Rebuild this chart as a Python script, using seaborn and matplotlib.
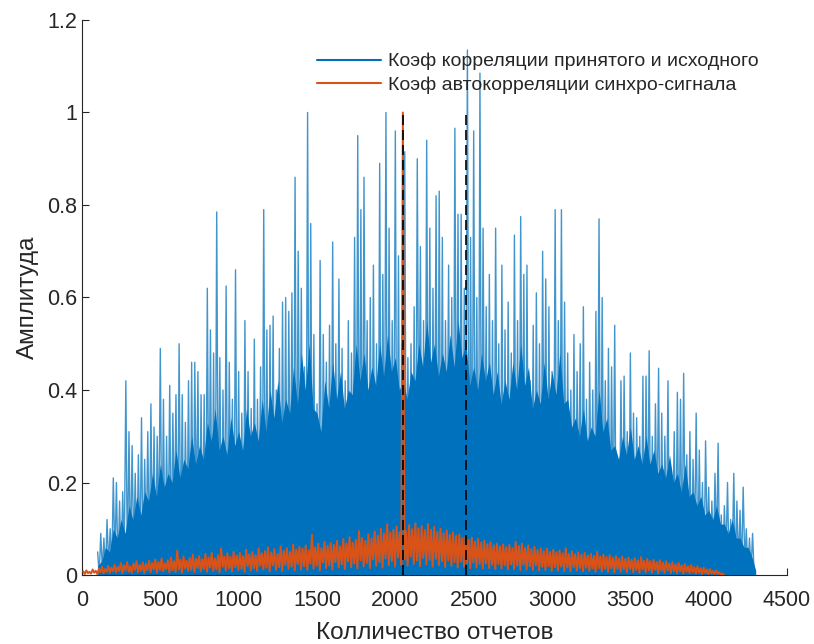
import numpy as np
import pandas as pd
import matplotlib
matplotlib.use("Agg")
import matplotlib.pyplot as plt
import seaborn as sns

# Stored samples: alternating local maxima and minima, 10 samples apart
sample_step = 10
corr_start = 100   # first sample of the received/reference correlation
acf_start = 8      # first sample of the sync-signal autocorrelation

# Correlation of received and source signal: local maxima (every 20 samples from 100)
corr_peaks = [
    0.05, 0.09, 0.08, 0.12, 0.10,
    0.21, 0.20, 0.16, 0.18, 0.42,
    0.31, 0.28, 0.22, 0.26, 0.34,
    0.25, 0.31, 0.37, 0.32, 0.30,
    0.49, 0.38, 0.30, 0.41, 0.35,
    0.39, 0.50, 0.39, 0.33, 0.42,
    0.46, 0.46, 0.44, 0.39, 0.39,
    0.62, 0.53, 0.48, 0.785, 0.47,
    0.40, 0.625, 0.46, 0.38, 0.66,
    0.44, 0.35, 0.55, 0.44, 0.36,
    0.51, 0.38, 0.45, 0.79, 0.53,
    0.54, 0.56, 0.40, 0.49, 0.59,
    0.60, 0.57, 0.61, 0.86, 0.70,
    0.62, 0.45, 1.00, 0.76, 0.52,
    0.37, 0.68, 0.52, 0.46, 0.54,
    0.72, 0.50, 0.64, 0.49, 0.42,
    0.55, 0.48, 0.73, 0.95, 0.79,
    0.86, 0.55, 0.60, 0.67, 0.50,
    0.89, 0.65, 1.00, 0.75, 0.55,
    0.96, 0.69, 0.50, 0.915, 0.47,
    0.50, 0.58, 0.90, 0.71, 0.55,
    0.94, 0.75, 0.62, 0.82, 0.83,
    0.73, 0.55, 0.67, 0.60, 0.966,
    0.78, 0.78, 0.62, 1.135, 0.73,
    0.96, 0.60, 1.085, 0.75, 0.58,
    0.65, 0.55, 0.75, 0.50, 0.67,
    0.53, 0.59, 0.48, 0.735, 0.55,
    0.775, 0.65, 0.67, 0.42, 0.54,
    0.61, 0.50, 0.70, 0.64, 0.58,
    0.44, 0.79, 0.55, 0.79, 0.59,
    0.48, 0.40, 0.52, 0.44, 0.50,
    0.58, 0.38, 0.46, 0.40, 0.57,
    0.77, 0.60, 0.42, 0.49, 0.45,
    0.54, 0.25, 0.42, 0.43, 0.31,
    0.48, 0.35, 0.34, 0.30, 0.43,
    0.43, 0.485, 0.30, 0.37, 0.447,
    0.35, 0.30, 0.42, 0.23, 0.31,
    0.395, 0.38, 0.436, 0.26, 0.31,
    0.25, 0.35, 0.27, 0.20, 0.29,
    0.19, 0.16, 0.22, 0.285, 0.13,
    0.15, 0.20, 0.12, 0.22, 0.16,
    0.14, 0.19, 0.10, 0.08, 0.09,
]

# Local minima between those maxima (every 20 samples from 110)
corr_troughs = [
    0.00, 0.01, 0.00, 0.02, 0.01, 0.03, 0.00, 0.02, 0.04, 0.01,
    0.02, 0.05, 0.01, 0.03, 0.00, 0.06, 0.02, 0.04, 0.01, 0.08,
    0.03, 0.01, 0.05, 0.02, 0.10, 0.01, 0.04, 0.02, 0.06, 0.00,
    0.03, 0.12, 0.02, 0.05, 0.01, 0.07, 0.03, 0.00, 0.09, 0.02,
    0.04, 0.01, 0.14, 0.03, 0.06, 0.02, 0.00, 0.08, 0.03, 0.05,
    0.01, 0.11, 0.02, 0.04, 0.00, 0.07, 0.03, 0.16, 0.01, 0.05,
    0.02, 0.09, 0.00, 0.04, 0.13, 0.02, 0.06, 0.01, 0.10, 0.03,
    0.05, 0.00, 0.18, 0.02, 0.07, 0.03, 0.12, 0.01, 0.04, 0.08,
    0.02, 0.15, 0.00, 0.06, 0.03, 0.20, 0.01, 0.05, 0.09, 0.02,
    0.04, 0.12, 0.01, 0.07, 0.17, 0.03, 0.00, 0.10, 0.05, 0.14,
    0.02, 0.08, 0.22, 0.01, 0.06, 0.11, 0.03, 0.16, 0.00, 0.09,
    0.04, 0.19, 0.02, 0.07, 0.13, 0.01, 0.05, 0.21, 0.03, 0.08,
    0.12, 0.00, 0.06, 0.18, 0.02, 0.10, 0.04, 0.15, 0.01, 0.07,
    0.03, 0.13, 0.00, 0.09, 0.05, 0.17, 0.02, 0.06, 0.11, 0.01,
    0.08, 0.04, 0.14, 0.02, 0.06, 0.10, 0.00, 0.12, 0.03, 0.07,
    0.01, 0.09, 0.05, 0.15, 0.02, 0.06, 0.00, 0.11, 0.04, 0.08,
    0.02, 0.13, 0.01, 0.05, 0.09, 0.00, 0.07, 0.03, 0.12, 0.02,
    0.06, 0.01, 0.10, 0.03, 0.00, 0.08, 0.02, 0.05, 0.11, 0.01,
    0.04, 0.07, 0.00, 0.09, 0.02, 0.05, 0.01, 0.08, 0.03, 0.00,
    0.06, 0.02, 0.04, 0.00, 0.07, 0.01, 0.03, 0.05, 0.00, 0.02,
    0.04, 0.01, 0.03, 0.00, 0.02, 0.01, 0.03, 0.00, 0.01, 0.00,
]

# Level under which the correlation oscillates densely (every 25 samples from 100)
body_start = 100
body_step = 25
corr_body = [
    0.02, 0.03, 0.06, 0.05, 0.10, 0.08, 0.12, 0.09, 0.15, 0.12,
    0.17, 0.13, 0.18, 0.16, 0.22, 0.17, 0.24, 0.19, 0.22, 0.20,
    0.27, 0.21, 0.25, 0.23, 0.30, 0.24, 0.28, 0.25, 0.33, 0.29,
    0.36, 0.27, 0.30, 0.26, 0.34, 0.28, 0.31, 0.27, 0.36, 0.30,
    0.33, 0.29, 0.38, 0.31, 0.40, 0.34, 0.42, 0.33, 0.38, 0.35,
    0.45, 0.37, 0.48, 0.40, 0.50, 0.36, 0.35, 0.31, 0.42, 0.36,
    0.46, 0.38, 0.44, 0.36, 0.40, 0.39, 0.50, 0.42, 0.48, 0.40,
    0.45, 0.41, 0.50, 0.43, 0.52, 0.44, 0.47, 0.40, 0.42, 0.38,
    0.44, 0.42, 0.50, 0.45, 0.55, 0.46, 0.50, 0.43, 0.48, 0.44,
    0.52, 0.45, 0.55, 0.47, 0.50, 0.41, 0.45, 0.40, 0.48, 0.42,
    0.46, 0.39, 0.44, 0.37, 0.42, 0.38, 0.46, 0.40, 0.50, 0.41,
    0.45, 0.36, 0.40, 0.37, 0.46, 0.38, 0.44, 0.39, 0.48, 0.37,
    0.38, 0.32, 0.34, 0.30, 0.36, 0.29, 0.32, 0.30, 0.40, 0.31,
    0.34, 0.27, 0.28, 0.25, 0.30, 0.26, 0.32, 0.25, 0.28, 0.24,
    0.30, 0.24, 0.27, 0.22, 0.24, 0.21, 0.26, 0.20, 0.22, 0.18,
    0.24, 0.17, 0.18, 0.15, 0.17, 0.13, 0.14, 0.12, 0.15, 0.11,
    0.11, 0.09, 0.12, 0.08, 0.08, 0.06, 0.06, 0.04, 0.01,
]

# Autocorrelation of the sync signal: local maxima (every 20 samples from 8)
acf_peaks = [
    0.008, 0.010, 0.007, 0.012, 0.009, 0.014, 0.018, 0.013, 0.020, 0.016,
    0.022, 0.018, 0.026, 0.021, 0.028, 0.019, 0.025, 0.030, 0.022, 0.027,
    0.024, 0.031, 0.026, 0.034, 0.028, 0.036, 0.025, 0.032, 0.038, 0.030,
    0.053, 0.033, 0.040, 0.031, 0.037, 0.044, 0.035, 0.041, 0.034, 0.046,
    0.038, 0.048, 0.036, 0.043, 0.058, 0.040, 0.047, 0.039, 0.050, 0.042,
    0.048, 0.041, 0.055, 0.045, 0.050, 0.043, 0.058, 0.047, 0.052, 0.060,
    0.049, 0.056, 0.046, 0.062, 0.052, 0.058, 0.050, 0.066, 0.055, 0.061,
    0.057, 0.064, 0.053, 0.087, 0.060, 0.068, 0.058, 0.072, 0.063, 0.069,
    0.065, 0.074, 0.062, 0.078, 0.068, 0.082, 0.070, 0.076, 0.095, 0.080,
    0.074, 0.088, 0.079, 0.094, 0.085, 0.100, 0.090, 0.110, 0.092, 0.098,
    0.105, 0.092, 1.000, 0.095, 0.108, 0.099, 0.112, 0.101, 0.106, 0.097,
    0.110, 0.098, 0.104, 0.093, 0.100, 0.090, 0.096, 0.087, 0.092, 0.085,
    0.088, 0.080, 0.084, 0.076, 0.081, 0.072, 0.078, 0.070, 0.074, 0.067,
    0.071, 0.064, 0.068, 0.062, 0.066, 0.060, 0.065, 0.058, 0.072, 0.063,
    0.068, 0.059, 0.064, 0.056, 0.061, 0.054, 0.058, 0.052, 0.057, 0.050,
    0.055, 0.049, 0.053, 0.047, 0.058, 0.046, 0.051, 0.045, 0.049, 0.044,
    0.048, 0.042, 0.046, 0.041, 0.050, 0.040, 0.044, 0.039, 0.043, 0.038,
    0.041, 0.036, 0.040, 0.035, 0.038, 0.033, 0.037, 0.032, 0.039, 0.031,
    0.035, 0.030, 0.033, 0.028, 0.032, 0.027, 0.030, 0.025, 0.028, 0.023,
    0.026, 0.021, 0.024, 0.019, 0.022, 0.017, 0.019, 0.015, 0.016, 0.012,
    0.013, 0.009, 0.010, 0.006, 0.003,
]

# Local minima of the autocorrelation (every 20 samples from 18)
acf_troughs = [
    0.002, 0.004, 0.003, 0.005, 0.002, 0.006, 0.004, 0.007, 0.005, 0.008,
    0.006, 0.009, 0.004, 0.010, 0.007, 0.005, 0.011, 0.006, 0.009, 0.004,
    0.010, 0.006, 0.012, 0.005, 0.011, 0.008, 0.013, 0.006, 0.010, 0.007,
    0.012, 0.005, 0.014, 0.009, 0.011, 0.006, 0.015, 0.008, 0.013, 0.007,
    0.016, 0.009, 0.012, 0.006, 0.018, 0.010, 0.014, 0.008, 0.017, 0.011,
    0.013, 0.007, 0.019, 0.010, 0.015, 0.009, 0.020, 0.012, 0.016, 0.008,
    0.021, 0.011, 0.017, 0.009, 0.022, 0.013, 0.018, 0.010, 0.024, 0.012,
    0.019, 0.011, 0.025, 0.014, 0.020, 0.010, 0.027, 0.015, 0.021, 0.012,
    0.028, 0.016, 0.023, 0.013, 0.030, 0.017, 0.025, 0.014, 0.032, 0.019,
    0.026, 0.015, 0.034, 0.020, 0.028, 0.016, 0.036, 0.021, 0.030, 0.018,
    0.038, 0.022, 0.034, 0.020, 0.040, 0.024, 0.031, 0.019, 0.037, 0.023,
    0.033, 0.018, 0.035, 0.021, 0.030, 0.017, 0.032, 0.020, 0.028, 0.016,
    0.029, 0.018, 0.026, 0.015, 0.027, 0.016, 0.024, 0.014, 0.025, 0.015,
    0.022, 0.013, 0.024, 0.014, 0.021, 0.012, 0.023, 0.013, 0.020, 0.011,
    0.022, 0.012, 0.019, 0.011, 0.021, 0.010, 0.018, 0.011, 0.019, 0.009,
    0.017, 0.010, 0.018, 0.009, 0.016, 0.008, 0.017, 0.010, 0.015, 0.008,
    0.016, 0.009, 0.014, 0.007, 0.015, 0.008, 0.013, 0.007, 0.014, 0.006,
    0.013, 0.007, 0.012, 0.006, 0.013, 0.006, 0.011, 0.005, 0.012, 0.006,
    0.010, 0.005, 0.011, 0.004, 0.009, 0.005, 0.010, 0.004, 0.008, 0.004,
    0.008, 0.003, 0.007, 0.004, 0.006, 0.003, 0.005, 0.002, 0.004, 0.002,
    0.003, 0.002, 0.002, 0.001, 0.000,
]

# Sync positions marked with dashed lines
marker_samples = [2048, 2448]
marker_level = 1.0

x_ticks = [0, 500, 1000, 1500, 2000, 2500, 3000, 3500, 4000, 4500]
y_ticks = [0, 0.2, 0.4, 0.6, 0.8, 1.0, 1.2]
y_tick_labels = ["0", "0.2", "0.4", "0.6", "0.8", "1", "1.2"]

label_corr = "Коэф корреляции принятого и исходного"
label_acf = "Коэф автокорреляции синхро-сигнала"
x_label = "Колличество отчетов"
y_label = "Амплитуда"

color_corr = "#0072BD"
color_acf = "#D95319"
text_color = "#262626"


def interleave(start, peaks, troughs):
    """Merge maxima and minima into one sample-ordered series."""
    n = len(peaks)
    x = np.empty(2 * n)
    y = np.empty(2 * n)
    x[0::2] = start + 2 * sample_step * np.arange(n)
    x[1::2] = x[0::2] + sample_step
    y[0::2] = peaks
    y[1::2] = troughs
    return pd.DataFrame({"sample": x, "value": y})


corr_df = interleave(corr_start, corr_peaks, corr_troughs)
acf_df = interleave(acf_start, acf_peaks, acf_troughs)
body_df = pd.DataFrame({
    "sample": body_start + body_step * np.arange(len(corr_body)),
    "value": corr_body,
})

sns.set_style("ticks")
plt.rcParams["font.family"] = ["Liberation Sans", "DejaVu Sans"]

fig = plt.figure(figsize=(8.14, 6.44), dpi=100)
ax = fig.add_axes([0.1007, 0.1071, 0.8662, 0.8619])

# dense part of the correlation, then its individual maxima on top
ax.fill_between(body_df["sample"], 0, body_df["value"], color=color_corr,
                linewidth=0, zorder=1)
sns.lineplot(data=corr_df, x="sample", y="value", ax=ax, color=color_corr,
             linewidth=1.0, alpha=0.75, sort=False, estimator=None,
             label=label_corr, zorder=2)
sns.lineplot(data=acf_df, x="sample", y="value", ax=ax, color=color_acf,
             linewidth=1.4, sort=False, estimator=None, label=label_acf,
             zorder=3)
ax.vlines(marker_samples, 0, marker_level, colors="black", linewidth=1.2,
          linestyles=(0, (6, 3)), zorder=4)

ax.set_xlim(0, 4500)
ax.set_ylim(0, 1.2)
ax.set_xticks(x_ticks)
ax.set_yticks(y_ticks)
ax.set_yticklabels(y_tick_labels)
ax.set_xlabel(x_label, fontsize=17.5, color=text_color, labelpad=8)
ax.set_ylabel(y_label, fontsize=17.5, color=text_color, labelpad=6)

for side in ("top", "right"):
    ax.spines[side].set_visible(False)
for side in ("left", "bottom"):
    ax.spines[side].set_color(text_color)
    ax.spines[side].set_linewidth(0.8)
ax.tick_params(direction="in", length=5, width=0.8, colors=text_color,
               labelsize=15.5, labelcolor=text_color)
ax.tick_params(axis="x", pad=11)

leg = ax.legend(loc="upper left", bbox_to_anchor=(0.322, 0.955), frameon=False,
                fontsize=14, handlelength=3.3, handletextpad=0.36,
                labelspacing=0.3, borderaxespad=0)
for line in leg.get_lines():
    line.set_linewidth(1.5)
    line.set_alpha(1.0)
for txt in leg.get_texts():
    txt.set_color(text_color)

fig.savefig("out.png", dpi=100)
